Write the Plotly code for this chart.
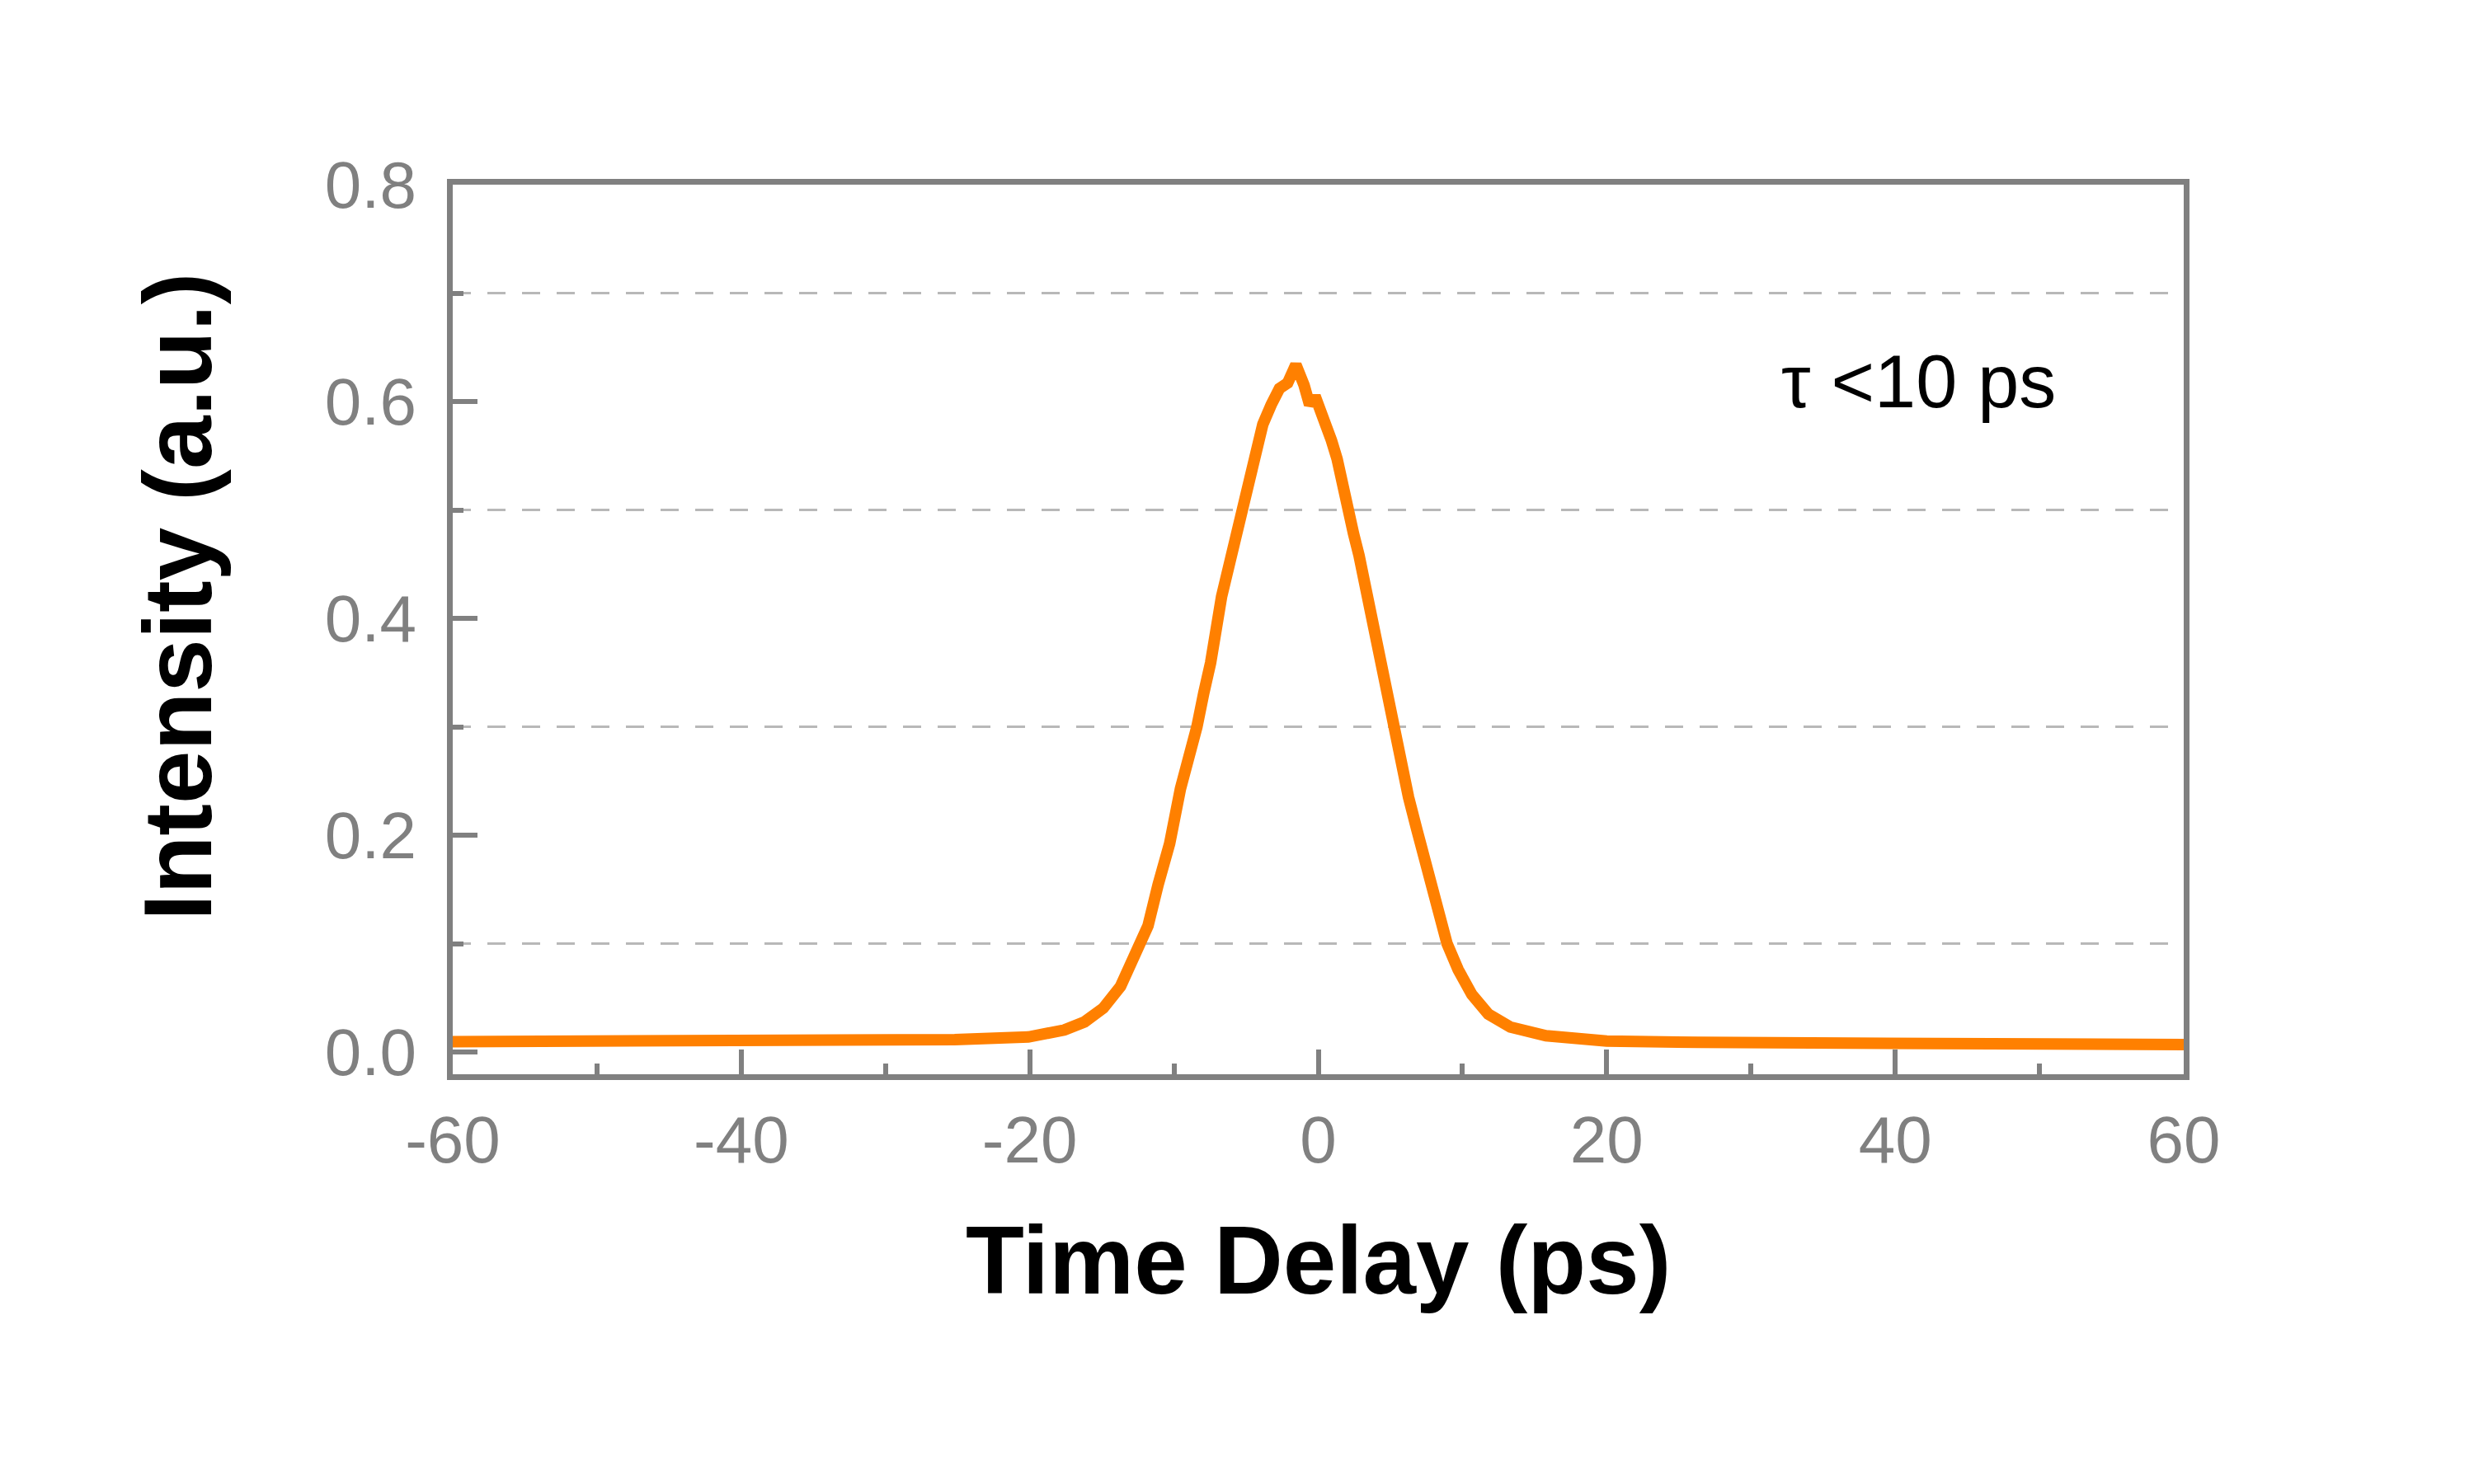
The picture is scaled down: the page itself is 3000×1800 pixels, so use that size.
import plotly.graph_objects as go

# Autocorrelation trace
time_ps = [-60, -55, -50, -45, -40, -35, -30, -25.2, -20.1, -17.6, -16.2, -14.9, -13.7,
           -12.8, -11.8, -11.1, -10.3, -9.55, -8.79, -8.41, -7.93, -7.46, -6.70, -6.12,
           -5.55, -5.27, -4.88, -4.41, -3.84, -3.26, -2.69, -2.12, -1.55, -0.98, -0.60,
           -0.22, 0.35, 0.92, 1.31, 1.69, 2.07, 2.45, 2.83, 3.21, 3.59, 4.17, 5.12, 5.69,
           6.26, 6.84, 7.41, 8.17, 8.93, 9.70, 10.65, 11.79, 13.32, 15.79, 20.0, 26.3,
           30, 40, 50, 60]
intensity = [0.0096, 0.0097, 0.0096, 0.0097, 0.0097, 0.0100, 0.0105, 0.0114, 0.0139, 0.0203,
             0.0278, 0.0405, 0.0607, 0.0886, 0.1164, 0.1543, 0.1923, 0.2429, 0.2783, 0.300,
             0.3314, 0.359, 0.420, 0.453, 0.488, 0.500, 0.529, 0.554, 0.579, 0.597, 0.612,
             0.617, 0.634, 0.615, 0.597, 0.605, 0.587, 0.564, 0.547, 0.519, 0.496, 0.478,
             0.458, 0.433, 0.412, 0.370, 0.300, 0.268, 0.235, 0.205, 0.175, 0.134, 0.100,
             0.076, 0.053, 0.035, 0.023, 0.015, 0.0101, 0.0089, 0.0085, 0.0076, 0.0071, 0.0068]

x_tickvals = [-60, -40, -20, 0, 20, 40, 60]
x_ticktext = ["-60", "-40", "-20", "0", "20", "40", "60"]
y_tickvals = [0.0, 0.2, 0.4, 0.6, 0.8]
y_ticktext = ["0.0", "0.2", "0.4", "0.6", "0.8"]
y_minor_vals = [0.1, 0.3, 0.5, 0.7]
x_minor_vals = [-50, -30, -10, 10, 30, 50]

x_title = "Time Delay (ps)"
y_title = "Intensity (a.u.)"
note_text = "\u03c4 <10 ps"

FONT = "Liberation Sans, Arial, sans-serif"
AXIS_GRAY = "#808080"

fig = go.Figure()
fig.add_trace(go.Scatter(
    x=time_ps, y=intensity, mode="lines",
    line=dict(color="#ff8000", width=14),
    showlegend=False,
))

common_axis = dict(
    showline=True, linecolor=AXIS_GRAY, linewidth=7, mirror=True,
    ticks="inside", tickcolor=AXIS_GRAY, tickwidth=6, ticklen=30,
    tickfont=dict(family=FONT, size=80, color=AXIS_GRAY),
    zeroline=False, showgrid=False,
)

fig.update_xaxes(
    **common_axis,
    range=[-60, 60],
    tickmode="array", tickvals=x_tickvals, ticktext=x_ticktext,
    ticklabelstandoff=4,
    minor=dict(tickmode="array", tickvals=x_minor_vals, ticks="inside", ticklen=13,
               tickwidth=6, tickcolor=AXIS_GRAY, showgrid=False),
)
fig.update_yaxes(
    **common_axis,
    range=[-0.0205, 0.8],
    tickmode="array", tickvals=y_tickvals, ticktext=y_ticktext,
    ticklabelstandoff=21,
    minor=dict(tickmode="array", tickvals=y_minor_vals, ticks="inside", ticklen=13,
               tickwidth=6, tickcolor=AXIS_GRAY, showgrid=True, gridcolor="#b8b8b8",
               gridwidth=3, griddash="22px,20px"),
)

fig.add_annotation(
    x=41.6, y=0.618, xref="x", yref="y", text=note_text, showarrow=False,
    font=dict(family=FONT, size=90, color="black"),
    xanchor="center", yanchor="middle",
)
fig.add_annotation(
    x=0.5, y=-0.209, xref="paper", yref="paper", text=x_title, showarrow=False,
    font=dict(family=FONT, size=116, color="black", weight="bold"),
    xanchor="center", yanchor="middle",
)
fig.add_annotation(
    x=-0.159, y=0.537, xref="paper", yref="paper", text=y_title, showarrow=False,
    textangle=-90,
    font=dict(family=FONT, size=116, color="black", weight="bold"),
    xanchor="center", yanchor="middle",
)

fig.update_layout(
    width=3000, height=1800,
    margin=dict(l=541, r=360, t=216, b=505),
    paper_bgcolor="white", plot_bgcolor="white",
    font=dict(family=FONT),
)

fig.write_html("out.html")
